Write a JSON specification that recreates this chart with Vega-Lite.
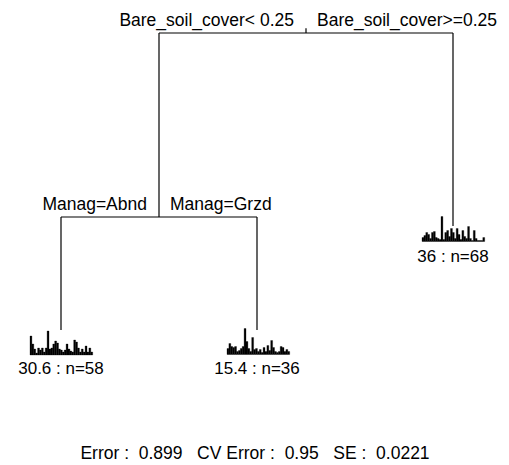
{
  "$schema": "https://vega.github.io/schema/vega-lite/v6.json",
  "width": 509,
  "height": 465,
  "padding": 0,
  "autosize": "none",
  "background": "white",
  "config": {"view": {"stroke": null}, "font": "Liberation Sans"},
  "datasets": {
    "segments": [
      {"x": 2.25, "x2": 2.25, "y": 1, "y2": 1.0158},
      {"x": 1.5, "x2": 3, "y": 1, "y2": 1},
      {"x": 1.5, "x2": 1.5, "y": 1, "y2": 0.3805},
      {"x": 3, "x2": 3, "y": 1, "y2": 0.3502},
      {"x": 1, "x2": 2, "y": 0.3805, "y2": 0.3805},
      {"x": 1, "x2": 1, "y": 0.3805, "y2": 0},
      {"x": 2, "x2": 2, "y": 0.3805, "y2": 0}
    ],
    "splits": [
      {"x": 2.25, "y": 1, "label": "Bare_soil_cover< 0.25", "side": "left"},
      {"x": 2.25, "y": 1, "label": "Bare_soil_cover>=0.25", "side": "right"},
      {"x": 1.5, "y": 0.3805, "label": "Manag=Abnd", "side": "left"},
      {"x": 1.5, "y": 0.3805, "label": "Manag=Grzd", "side": "right"}
    ],
    "leaves": [
      {"x": 1, "y": -0.1498, "label": "30.6 : n=58"},
      {"x": 2, "y": -0.1498, "label": "15.4 : n=36"},
      {"x": 3, "y": 0.2273, "label": "36 : n=68"}
    ],
    "fit": [
      {"x": 1.9898, "y": -0.4343, "label": "Error :\u00a0 0.899\u00a0\u00a0 CV Error :\u00a0 0.95\u00a0\u00a0 SE :\u00a0 0.0221"}
    ],
    "species": [
      {"leaf": 1, "sp": 1, "ab": 19}, {"leaf": 1, "sp": 2, "ab": 11}, {"leaf": 1, "sp": 3, "ab": 6}, {"leaf": 1, "sp": 4, "ab": 2},
      {"leaf": 1, "sp": 5, "ab": 7}, {"leaf": 1, "sp": 6, "ab": 5}, {"leaf": 1, "sp": 7, "ab": 7}, {"leaf": 1, "sp": 8, "ab": 3},
      {"leaf": 1, "sp": 9, "ab": 7}, {"leaf": 1, "sp": 10, "ab": 24}, {"leaf": 1, "sp": 11, "ab": 6}, {"leaf": 1, "sp": 12, "ab": 7},
      {"leaf": 1, "sp": 13, "ab": 11}, {"leaf": 1, "sp": 14, "ab": 14}, {"leaf": 1, "sp": 15, "ab": 12}, {"leaf": 1, "sp": 16, "ab": 6},
      {"leaf": 1, "sp": 17, "ab": 5}, {"leaf": 1, "sp": 18, "ab": 3}, {"leaf": 1, "sp": 19, "ab": 5}, {"leaf": 1, "sp": 20, "ab": 11},
      {"leaf": 1, "sp": 21, "ab": 6}, {"leaf": 1, "sp": 22, "ab": 4}, {"leaf": 1, "sp": 23, "ab": 3}, {"leaf": 1, "sp": 24, "ab": 15},
      {"leaf": 1, "sp": 25, "ab": 13}, {"leaf": 1, "sp": 26, "ab": 7}, {"leaf": 1, "sp": 27, "ab": 3}, {"leaf": 1, "sp": 28, "ab": 6},
      {"leaf": 1, "sp": 29, "ab": 3}, {"leaf": 1, "sp": 30, "ab": 9}, {"leaf": 1, "sp": 31, "ab": 3}, {"leaf": 1, "sp": 32, "ab": 7},
      {"leaf": 1, "sp": 33, "ab": 3},
      {"leaf": 2, "sp": 1, "ab": 6}, {"leaf": 2, "sp": 2, "ab": 11}, {"leaf": 2, "sp": 3, "ab": 8}, {"leaf": 2, "sp": 4, "ab": 7},
      {"leaf": 2, "sp": 5, "ab": 8}, {"leaf": 2, "sp": 6, "ab": 3}, {"leaf": 2, "sp": 7, "ab": 4}, {"leaf": 2, "sp": 8, "ab": 6},
      {"leaf": 2, "sp": 9, "ab": 8}, {"leaf": 2, "sp": 10, "ab": 26}, {"leaf": 2, "sp": 11, "ab": 13}, {"leaf": 2, "sp": 12, "ab": 6},
      {"leaf": 2, "sp": 13, "ab": 3}, {"leaf": 2, "sp": 14, "ab": 17}, {"leaf": 2, "sp": 15, "ab": 5}, {"leaf": 2, "sp": 16, "ab": 6},
      {"leaf": 2, "sp": 17, "ab": 3}, {"leaf": 2, "sp": 18, "ab": 5}, {"leaf": 2, "sp": 19, "ab": 2}, {"leaf": 2, "sp": 20, "ab": 7},
      {"leaf": 2, "sp": 21, "ab": 3}, {"leaf": 2, "sp": 22, "ab": 9}, {"leaf": 2, "sp": 23, "ab": 4}, {"leaf": 2, "sp": 24, "ab": 14},
      {"leaf": 2, "sp": 25, "ab": 7}, {"leaf": 2, "sp": 26, "ab": 3}, {"leaf": 2, "sp": 27, "ab": 2}, {"leaf": 2, "sp": 28, "ab": 3},
      {"leaf": 2, "sp": 29, "ab": 8}, {"leaf": 2, "sp": 30, "ab": 7}, {"leaf": 2, "sp": 31, "ab": 3}, {"leaf": 2, "sp": 32, "ab": 5},
      {"leaf": 2, "sp": 33, "ab": 3},
      {"leaf": 3, "sp": 1, "ab": 4}, {"leaf": 3, "sp": 2, "ab": 6}, {"leaf": 3, "sp": 3, "ab": 9}, {"leaf": 3, "sp": 4, "ab": 7},
      {"leaf": 3, "sp": 5, "ab": 3}, {"leaf": 3, "sp": 6, "ab": 9}, {"leaf": 3, "sp": 7, "ab": 10}, {"leaf": 3, "sp": 8, "ab": 4},
      {"leaf": 3, "sp": 9, "ab": 3}, {"leaf": 3, "sp": 10, "ab": 2}, {"leaf": 3, "sp": 11, "ab": 25}, {"leaf": 3, "sp": 12, "ab": 2},
      {"leaf": 3, "sp": 13, "ab": 9}, {"leaf": 3, "sp": 14, "ab": 11}, {"leaf": 3, "sp": 15, "ab": 5}, {"leaf": 3, "sp": 16, "ab": 13},
      {"leaf": 3, "sp": 17, "ab": 9}, {"leaf": 3, "sp": 18, "ab": 3}, {"leaf": 3, "sp": 19, "ab": 13}, {"leaf": 3, "sp": 20, "ab": 7},
      {"leaf": 3, "sp": 21, "ab": 2}, {"leaf": 3, "sp": 22, "ab": 11}, {"leaf": 3, "sp": 23, "ab": 5}, {"leaf": 3, "sp": 24, "ab": 3},
      {"leaf": 3, "sp": 25, "ab": 15}, {"leaf": 3, "sp": 26, "ab": 3}, {"leaf": 3, "sp": 27, "ab": 1}, {"leaf": 3, "sp": 28, "ab": 11},
      {"leaf": 3, "sp": 29, "ab": 3}, {"leaf": 3, "sp": 30, "ab": 1}, {"leaf": 3, "sp": 31, "ab": 1}, {"leaf": 3, "sp": 32, "ab": 1},
      {"leaf": 3, "sp": 33, "ab": 4}
    ]
  },
  "resolve": {"scale": {"x": "independent", "y": "independent"}},
  "layer": [
    {
      "layer": [
        {
          "data": {"name": "segments"},
          "mark": {"type": "rule", "color": "#000000", "strokeWidth": 1.2},
          "encoding": {
            "x": {"field": "x", "type": "quantitative", "scale": {"domain": [0.68878, 3.28571], "nice": false, "zero": false}, "axis": null},
            "x2": {"field": "x2"},
            "y": {"field": "y", "type": "quantitative", "scale": {"domain": [-0.45455, 1.11111], "nice": false, "zero": false}, "axis": null},
            "y2": {"field": "y2"}
          }
        },
        {
          "data": {"name": "splits"},
          "transform": [{"filter": "datum.side == 'left'"}],
          "mark": {"type": "text", "align": "right", "baseline": "alphabetic", "dx": -12, "dy": -7, "fontSize": 17.5, "color": "#000000"},
          "encoding": {
            "x": {"field": "x", "type": "quantitative", "scale": {"domain": [0.68878, 3.28571], "nice": false, "zero": false}, "axis": null},
            "y": {"field": "y", "type": "quantitative", "scale": {"domain": [-0.45455, 1.11111], "nice": false, "zero": false}, "axis": null},
            "text": {"field": "label"}
          }
        },
        {
          "data": {"name": "splits"},
          "transform": [{"filter": "datum.side == 'right'"}],
          "mark": {"type": "text", "align": "left", "baseline": "alphabetic", "dx": 11, "dy": -7, "fontSize": 17.5, "color": "#000000"},
          "encoding": {
            "x": {"field": "x", "type": "quantitative", "scale": {"domain": [0.68878, 3.28571], "nice": false, "zero": false}, "axis": null},
            "y": {"field": "y", "type": "quantitative", "scale": {"domain": [-0.45455, 1.11111], "nice": false, "zero": false}, "axis": null},
            "text": {"field": "label"}
          }
        },
        {
          "data": {"name": "leaves"},
          "mark": {"type": "text", "align": "center", "baseline": "alphabetic", "fontSize": 17, "color": "#000000"},
          "encoding": {
            "x": {"field": "x", "type": "quantitative", "scale": {"domain": [0.68878, 3.28571], "nice": false, "zero": false}, "axis": null},
            "y": {"field": "y", "type": "quantitative", "scale": {"domain": [-0.45455, 1.11111], "nice": false, "zero": false}, "axis": null},
            "text": {"field": "label"}
          }
        },
        {
          "data": {"name": "fit"},
          "mark": {"type": "text", "align": "center", "baseline": "alphabetic", "fontSize": 17.5, "color": "#000000"},
          "encoding": {
            "x": {"field": "x", "type": "quantitative", "scale": {"domain": [0.68878, 3.28571], "nice": false, "zero": false}, "axis": null},
            "y": {"field": "y", "type": "quantitative", "scale": {"domain": [-0.45455, 1.11111], "nice": false, "zero": false}, "axis": null},
            "text": {"field": "label"}
          }
        }
      ]
    },
    {
      "data": {"name": "species"},
      "transform": [{"filter": "datum.leaf == 1"}],
      "mark": {"type": "bar", "color": "#000000", "stroke": "#000000", "strokeWidth": 0.3},
      "encoding": {
        "x": {"field": "sp", "type": "ordinal", "scale": {"range": [30, 92.7], "paddingInner": 0, "paddingOuter": 0}, "axis": null},
        "y": {"field": "ab", "type": "quantitative", "scale": {"domain": [0, 30], "range": [355, 325], "nice": false}, "axis": null}
      }
    },
    {
      "data": {"name": "species"},
      "transform": [{"filter": "datum.leaf == 2"}],
      "mark": {"type": "bar", "color": "#000000", "stroke": "#000000", "strokeWidth": 0.3},
      "encoding": {
        "x": {"field": "sp", "type": "ordinal", "scale": {"range": [227, 289.7], "paddingInner": 0, "paddingOuter": 0}, "axis": null},
        "y": {"field": "ab", "type": "quantitative", "scale": {"domain": [0, 30], "range": [354.5, 324.5], "nice": false}, "axis": null}
      }
    },
    {
      "data": {"name": "species"},
      "transform": [{"filter": "datum.leaf == 3"}],
      "mark": {"type": "bar", "color": "#000000", "stroke": "#000000", "strokeWidth": 0.3},
      "encoding": {
        "x": {"field": "sp", "type": "ordinal", "scale": {"range": [422, 484.7], "paddingInner": 0, "paddingOuter": 0}, "axis": null},
        "y": {"field": "ab", "type": "quantitative", "scale": {"domain": [0, 30], "range": [241.5, 211.5], "nice": false}, "axis": null}
      }
    }
  ]
}
